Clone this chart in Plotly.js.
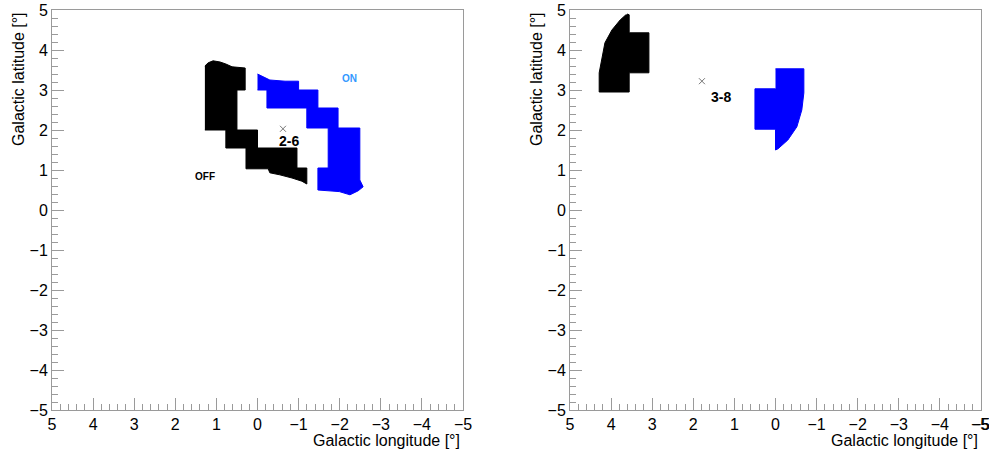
<!DOCTYPE html>
<html>
<head>
<meta charset="utf-8">
<script src="https://cdn.plot.ly/plotly-3.0.1.min.js"></script>
<style>html,body{margin:0;padding:0;background:#fff;overflow:hidden;}#chart{width:989px;height:456px;}</style>
</head>
<body>
<div id="chart"></div>
<script>
// ---- Left panel (region 2-6) ----
const offLon26 = [1.28, 1.20, 1.08, 0.91, 0.77, 0.62, 0.30, 0.30, 0.50, 0.50, 0.00, 0.00, -0.96, -0.96, -1.20, -1.20, -1.08, -0.84, -0.54, -0.30, -0.26, 0.28, 0.28, 0.77, 0.77, 1.28];
const offLat26 = [3.60, 3.68, 3.73, 3.70, 3.65, 3.58, 3.55, 3.00, 3.00, 2.00, 2.00, 1.55, 1.55, 1.05, 1.05, 0.65, 0.72, 0.80, 0.88, 0.93, 1.03, 1.03, 1.55, 1.55, 2.00, 2.00];
const onLon26 = [0.00, -0.11, -0.30, -0.67, -1.00, -1.00, -1.47, -1.47, -1.96, -1.96, -2.49, -2.49, -2.57, -2.45, -2.25, -1.99, -1.47, -1.47, -1.72, -1.72, -1.20, -1.20, -0.23, -0.23, 0.00];
const onLat26 = [3.40, 3.35, 3.25, 3.22, 3.22, 3.00, 3.00, 2.55, 2.55, 2.05, 2.05, 0.75, 0.58, 0.48, 0.38, 0.46, 0.50, 1.05, 1.05, 2.05, 2.05, 2.55, 2.55, 3.00, 3.00];
const center26 = {lon: -0.62, lat: 2.03, label: "2-6", labelLon: -0.77, labelLat: 1.72};
const offTag26 = {text: "OFF", lon: 1.28, lat: 0.83};
const onTag26 = {text: "ON", lon: -2.25, lat: 3.30};

// ---- Right panel (region 3-8) ----
const offLon38 = [3.61, 3.56, 3.56, 3.08, 3.08, 3.56, 3.56, 4.29, 4.29, 4.22, 4.15, 3.98, 3.78, 3.64];
const offLat38 = [4.90, 4.88, 4.43, 4.43, 3.43, 3.43, 2.95, 2.95, 3.43, 3.83, 4.18, 4.50, 4.75, 4.88];
const onLon38 = [0.00, -0.69, -0.69, -0.64, -0.52, -0.30, -0.06, 0.00, 0.00, 0.50, 0.50, 0.00];
const onLat38 = [3.53, 3.53, 2.93, 2.50, 2.08, 1.75, 1.53, 1.50, 2.02, 2.02, 3.03, 3.03];
const center38 = {lon: 1.79, lat: 3.22, label: "3-8", labelLon: 1.33, labelLat: 2.83};

const xTitle = "Galactic longitude [°]";
const yTitle = "Galactic latitude [°]";
// end-of-axis tick label of the right panel (Plotly auto-hides it at the page edge)
const edgeTick = {value: -5, text: "\u22125"};

const FONT = "Liberation Sans, Arial, Helvetica, sans-serif";
const frameColor = "#9a9a9a";

function region(x, y, color, xa, ya) {
  return {type: "scatter", mode: "lines", x: x, y: y, fill: "toself",
    fillcolor: color, line: {color: color, width: 1}, xaxis: xa, yaxis: ya,
    hoverinfo: "skip", showlegend: false};
}
function marker(c, xa, ya) {
  return {type: "scatter", mode: "markers", x: [c.lon], y: [c.lat], xaxis: xa, yaxis: ya,
    marker: {symbol: "x-thin-open", size: 6, color: "#777", line: {width: 1, color: "#777"}},
    showlegend: false, hoverinfo: "skip"};
}

const data = [
  region(offLon26, offLat26, "#000000", "x", "y"),
  region(onLon26, onLat26, "#0000ff", "x", "y"),
  marker(center26, "x", "y"),
  region(offLon38, offLat38, "#000000", "x2", "y2"),
  region(onLon38, onLat38, "#0000ff", "x2", "y2"),
  marker(center38, "x2", "y2")
];

function xax(domain, anchor) {
  return {domain: domain, anchor: anchor, range: [5, -5], dtick: 1, tick0: 0,
    ticks: "inside", ticklen: 12, tickcolor: frameColor, tickwidth: 1,
    showline: true, linecolor: frameColor, linewidth: 1, mirror: true,
    showgrid: false, zeroline: false, ticklabeloverflow: "allow",
    tickfont: {family: FONT, size: 16, color: "#000"},
    minor: {dtick: 0.2, ticks: "inside", ticklen: 6, tickcolor: frameColor, showgrid: false}};
}
function yax(anchor) {
  return {domain: [0, 1], anchor: anchor, range: [-5, 5], dtick: 1, tick0: 0,
    ticks: "inside", ticklen: 12, tickcolor: frameColor, tickwidth: 1,
    showline: true, linecolor: frameColor, linewidth: 1, mirror: true,
    showgrid: false, zeroline: false, ticklabeloverflow: "allow",
    tickfont: {family: FONT, size: 16, color: "#000"},
    minor: {dtick: 0.2, ticks: "inside", ticklen: 6, tickcolor: frameColor, showgrid: false}};
}

const W = 989, H = 456, ml = 52, mr = 8, mt = 10, mb = 46;
const pw = W - ml - mr, ph = H - mt - mb;
const d1 = [0, (463 - ml) / pw];
const d2 = [(570 - ml) / pw, 1];

const annotations = [
  {text: xTitle, xref: "paper", yref: "paper", x: (462 - ml) / pw, y: -(440 - (H - mb)) / ph, xanchor: "right", yanchor: "middle", showarrow: false, font: {family: FONT, size: 16, color: "#000"}},
  {text: xTitle, xref: "paper", yref: "paper", x: (980 - ml) / pw, y: -(440 - (H - mb)) / ph, xanchor: "right", yanchor: "middle", showarrow: false, font: {family: FONT, size: 16, color: "#000"}},
  {text: yTitle, xref: "paper", yref: "paper", x: (18 - ml) / pw, y: 1, xanchor: "center", yanchor: "top", textangle: -90, showarrow: false, font: {family: FONT, size: 16, color: "#000"}},
  {text: yTitle, xref: "paper", yref: "paper", x: (536 - ml) / pw, y: 1, xanchor: "center", yanchor: "top", textangle: -90, showarrow: false, font: {family: FONT, size: 16, color: "#000"}},
  {text: edgeTick.text, xref: "x2", yref: "paper", x: edgeTick.value, y: 0, xanchor: "center", yanchor: "top", yshift: -4, xshift: -1, showarrow: false, font: {family: FONT, size: 16, color: "#000"}},
  {text: "<b>" + center26.label + "</b>", xref: "x", yref: "y", x: center26.labelLon, y: center26.labelLat, showarrow: false, font: {family: FONT, size: 14, color: "#000"}},
  {text: "<b>" + offTag26.text + "</b>", xref: "x", yref: "y", x: offTag26.lon, y: offTag26.lat, showarrow: false, font: {family: FONT, size: 10, color: "#000"}},
  {text: "<b>" + onTag26.text + "</b>", xref: "x", yref: "y", x: onTag26.lon, y: onTag26.lat, showarrow: false, font: {family: FONT, size: 10, color: "#3399ff"}},
  {text: "<b>" + center38.label + "</b>", xref: "x2", yref: "y2", x: center38.labelLon, y: center38.labelLat, showarrow: false, font: {family: FONT, size: 14, color: "#000"}}
];

const layout = {
  width: W, height: H,
  margin: {l: ml, r: mr, t: mt, b: mb, pad: 0},
  paper_bgcolor: "#fff", plot_bgcolor: "#fff",
  showlegend: false,
  xaxis: xax(d1, "y"), yaxis: yax("x"),
  xaxis2: xax(d2, "y2"), yaxis2: yax("x2"),
  annotations: annotations,
  font: {family: FONT}
};

Plotly.newPlot("chart", data, layout, {staticPlot: true, displayModeBar: false});
</script>
</body>
</html>
